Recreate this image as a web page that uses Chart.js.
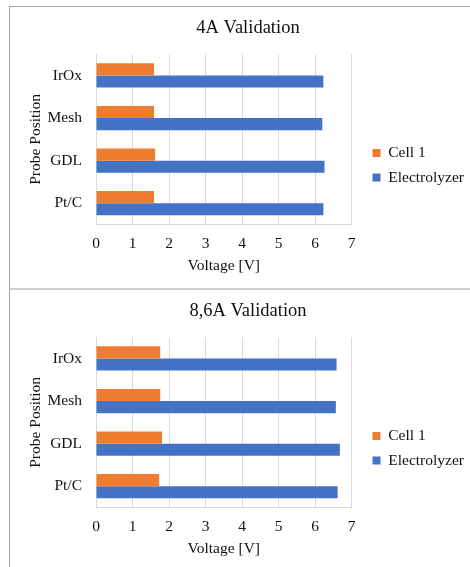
<!DOCTYPE html>
<html>
<head>
<meta charset="utf-8">
<script src="https://cdn.jsdelivr.net/npm/chart.js@4.4.0/dist/chart.umd.min.js"></script>
<style>
  html, body { margin: 0; padding: 0; background: #fff; overflow: hidden; }
  .frame { position: absolute; left: 9px; top: 6px; width: 470px; height: 600px;
           border-left: 1px solid #a6a6a6; border-top: 1px solid #a6a6a6; }
  .sep { position: absolute; left: 10px; top: 288px; width: 470px; height: 2px; background: #d0d0d0; }
  .box { position: absolute; left: 10px; width: 464px; height: 281px; }
</style>
</head>
<body>
<div class="frame"></div>
<div class="sep"></div>
<div class="box" style="top:7px"><canvas id="chart4A" width="464" height="281"></canvas></div>
<div class="box" style="top:290px"><canvas id="chart86A" width="464" height="281"></canvas></div>

<script>
// Probe positions, top to bottom as shown
const positions = ['IrOx', 'Mesh', 'GDL', 'Pt/C'];
const seriesNames = ['Cell 1', 'Electrolyzer'];
const xTicks = [0, 1, 2, 3, 4, 5, 6, 7];

// 4A validation voltages [V]
const cell1_4A = [1.59, 1.59, 1.62, 1.59];
const electrolyzer_4A = [6.23, 6.20, 6.26, 6.23];

// 8,6A validation voltages [V]
const cell1_86A = [1.76, 1.76, 1.81, 1.73];
const electrolyzer_86A = [6.59, 6.57, 6.68, 6.62];

const ORANGE = '#ED7D31';
const BLUE = '#4472C4';
const GRID = '#d9d9d9';
const TEXT = '#111';
const FONT = 'Liberation Serif';

function makeChart(canvasId, titleText, cellValues, elecValues) {
    const ctx = document.getElementById(canvasId).getContext('2d');
    return new Chart(ctx, {
        type: 'bar',
        data: {
            labels: positions,
            datasets: [
                { label: seriesNames[0], data: cellValues, backgroundColor: ORANGE },
                { label: seriesNames[1], data: elecValues, backgroundColor: BLUE }
            ]
        },
        options: {
            indexAxis: 'y',
            responsive: false,
            animation: false,
            categoryPercentage: 0.57,
            barPercentage: 1.0,
            layout: { padding: { left: 12, top: 0, right: 0, bottom: 0 } },
            plugins: {
                tooltip: { enabled: false },
                title: {
                    display: true,
                    text: titleText,
                    color: TEXT,
                    font: { family: FONT, size: 18.5, weight: 'normal' },
                    padding: { top: 10, bottom: 15 }
                },
                legend: {
                    position: 'right',
                    maxWidth: 200,
                    labels: {
                        color: TEXT,
                        font: { family: FONT, size: 15.5 },
                        boxWidth: 8,
                        boxHeight: 8,
                        padding: 9
                    },
                    // blank title only used to push the items below centre
                    title: { display: true, text: ' ', font: { size: 15.5 }, padding: { top: 17, bottom: 0 } }
                }
            },
            scales: {
                x: {
                    min: 0,
                    max: 7,
                    afterBuildTicks: (scale) => { scale.ticks = xTicks.map(v => ({ value: v })); },
                    afterFit: (scale) => { scale.height = 63.5; },
                    grid: { color: GRID, drawTicks: false },
                    border: { display: true, color: GRID },
                    ticks: { color: TEXT, font: { family: FONT, size: 15.5 }, padding: 10 },
                    title: {
                        display: true,
                        text: 'Voltage [V]',
                        color: TEXT,
                        font: { family: FONT, size: 15.5 },
                        padding: { top: 0, bottom: 12.5 }
                    }
                },
                y: {
                    afterFit: (scale) => { scale.width = 74; },
                    grid: { display: false, drawTicks: false },
                    border: { display: true, color: GRID },
                    ticks: { color: TEXT, font: { family: FONT, size: 15.5 }, padding: 14 },
                    title: {
                        display: true,
                        text: 'Probe Position',
                        color: TEXT,
                        font: { family: FONT, size: 15.5 },
                        padding: { top: 4.5, bottom: 0 }
                    }
                },
                gap: {
                    type: 'linear',
                    position: 'right',
                    display: true,
                    grid: { display: false },
                    border: { display: false },
                    ticks: { display: false },
                    afterFit: (scale) => { scale.width = 12; }
                }
            }
        }
    });
}

makeChart('chart4A', '4A Validation', cell1_4A, electrolyzer_4A);
makeChart('chart86A', '8,6A Validation', cell1_86A, electrolyzer_86A);
</script>
</body>
</html>
